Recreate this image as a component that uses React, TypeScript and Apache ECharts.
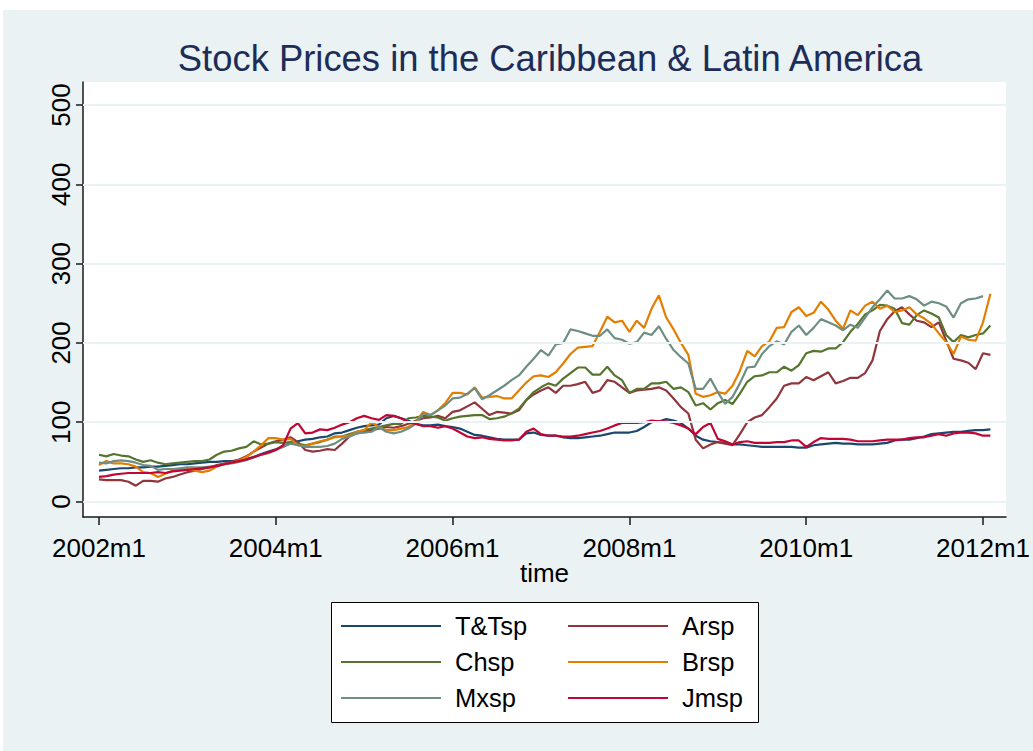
import React, { useEffect, useRef } from "react";
import * as echarts from "echarts";

// Month index 0 = 2002m1 ... 121 = 2012m2
const months: number[] = Array.from({ length: 122 }, (_, i) => i);

const tickMonths = [0, 24, 48, 72, 96, 120];
const tickLabels = ["2002m1", "2004m1", "2006m1", "2008m1", "2010m1", "2012m1"];
const yTicks = [0, 100, 200, 300, 400, 500];

const seriesNames = ["T&Tsp", "Arsp", "Chsp", "Brsp", "Mxsp", "Jmsp"];
const seriesColors = ["#1A476F", "#90353B", "#55752F", "#E37E00", "#6E8E84", "#C10534"];

const ttsp = [
  39, 40, 41, 42, 42, 43, 43, 44, 44, 45, 46, 47, 47, 48, 49, 50, 50, 51, 51, 52, 54, 56, 60, 63, 66, 69,
  74, 76, 78, 79, 81, 82, 86, 87, 90, 93, 95, 96, 97, 105, 108, 105, 102, 98, 96, 96, 97, 95, 94, 92, 88, 84,
  83, 81, 79, 78, 78, 78, 86, 87, 84, 83, 83, 81, 80, 80, 81, 82, 83, 85, 87, 87, 87, 89, 94, 100, 101,
  104, 102, 99, 92, 83, 78, 76, 75, 74, 72, 72, 71, 70, 69, 69, 69, 69, 69, 68, 68, 71, 72, 73, 74, 73, 73,
  72, 72, 72, 73, 74, 77, 78, 78, 80, 82, 85, 86, 87, 88, 88, 89, 90, 90, 91,
];

const arsp = [
  28, 27, 27, 27, 25, 20, 26, 26, 25, 29, 31, 34, 37, 39, 41, 43, 46, 48, 50, 53, 57, 63, 68, 73, 76, 78,
  81, 75, 65, 63, 64, 66, 65, 73, 82, 86, 88, 90, 92, 94, 93, 95, 98, 102, 105, 106, 108, 105, 113, 115, 120, 125,
  117, 109, 113, 112, 111, 115, 128, 135, 140, 144, 137, 146, 146, 148, 151, 137, 140, 153, 151, 144, 137, 140, 141, 142, 144,
  140, 130, 119, 111, 78, 67, 72, 75, 73, 71, 85, 100, 106, 109, 119, 130, 146, 149, 149, 157, 153, 158, 163, 149, 152, 156,
  156, 162, 178, 215, 230, 240, 245, 236, 228, 226, 220, 226, 203, 180, 178, 175, 167, 187, 185,
];

const chsp = [
  59, 57, 60, 58, 57, 53, 50, 52, 49, 47, 48, 49, 50, 51, 51, 53, 59, 63, 64, 67, 69, 76, 72, 73, 75, 74,
  75, 73, 71, 73, 75, 78, 82, 82, 85, 88, 90, 92, 94, 96, 98, 98, 105, 106, 108, 107, 106, 102, 105, 107, 108, 109,
  109, 104, 105, 107, 111, 117, 128, 138, 144, 149, 146, 155, 162, 169, 169, 160, 160, 170, 159, 153, 137, 142, 142, 149, 149,
  151, 142, 144, 138, 121, 124, 116, 124, 128, 123, 136, 151, 158, 159, 163, 163, 170, 165, 172, 187, 190, 189, 193, 193, 201, 214,
  224, 236, 241, 248, 247, 243, 225, 223, 235, 241, 237, 232, 210, 201, 210, 207, 210, 212, 222,
];

const brsp = [
  46, 51, 48, 48, 47, 44, 37, 36, 31, 35, 39, 40, 41, 39, 37, 39, 44, 47, 49, 52, 56, 63, 71, 80, 80, 78,
  79, 71, 70, 73, 76, 78, 81, 82, 83, 88, 90, 100, 94, 90, 90, 92, 94, 100, 113, 109, 115, 124, 137, 137, 135, 144,
  131, 132, 133, 130, 130, 140, 150, 158, 159, 157, 163, 174, 186, 194, 195, 196, 214, 233, 226, 228, 214, 228, 219, 243, 260,
  232, 217, 200, 185, 136, 132, 134, 138, 136, 146, 165, 190, 183, 196, 202, 219, 220, 239, 245, 234, 238, 252, 242, 228, 218, 241,
  235, 247, 252, 243, 247, 239, 241, 245, 236, 231, 224, 212, 201, 186, 208, 204, 203, 226, 262,
];

const mxsp: (number | null)[] = [
  49, 48, 51, 52, 51, 49, 46, 45, 40, 41, 41, 42, 43, 43, 43, 44, 45, 47, 48, 50, 52, 56, 59, 61, 65, 69,
  73, 71, 69, 69, 69, 70, 73, 79, 82, 86, 87, 88, 94, 88, 86, 88, 92, 98, 111, 109, 115, 121, 130, 131, 136, 143,
  129, 134, 140, 146, 153, 159, 170, 180, 191, 184, 198, 200, 217, 215, 212, 209, 209, 217, 206, 204, 199, 201, 213, 210, 221,
  205, 191, 182, 174, 142, 142, 155, 138, 123, 132, 149, 169, 170, 186, 196, 202, 198, 214, 222, 210, 219, 230, 226, 222, 216, 223,
  219, 232, 245, 255, 266, 256, 256, 259, 255, 247, 252, 250, 246, 232, 250, 255, 256, 259, null,
];

const jmsp = [
  31, 32, 34, 35, 36, 36, 36, 36, 37, 36, 38, 39, 40, 41, 42, 43, 45, 47, 49, 51, 53, 56, 59, 62, 65, 71,
  92, 99, 86, 87, 91, 90, 93, 97, 100, 105, 108, 105, 103, 109, 108, 105, 100, 98, 95, 95, 93, 95, 92, 87, 82, 80,
  81, 79, 78, 77, 77, 78, 88, 92, 85, 83, 83, 82, 82, 83, 85, 87, 89, 92, 96, 99, 99, 99, 100, 102, 101,
  101, 99, 96, 92, 85, 94, 99, 79, 76, 72, 75, 76, 74, 74, 74, 75, 75, 77, 77, 69, 75, 80, 79, 79, 79, 78,
  76, 76, 76, 77, 78, 78, 78, 80, 81, 81, 83, 85, 83, 86, 87, 87, 86, 83, 83,
];

const seriesValues = [ttsp, arsp, chsp, brsp, mxsp, jmsp];

const FONT = "'Liberation Sans', Arial, Helvetica, sans-serif";
const BG = "#EAF2F3";
const AXIS = "#1a1a1a";

export default function App() {
  const ref = useRef<HTMLDivElement>(null);

  useEffect(() => {
    if (!ref.current) return;
    const chart = echarts.init(ref.current, null, { renderer: "svg" });

    const lineSeries = seriesNames.map((name, k) => ({
      name,
      type: "line",
      data: months.map((m) => [m, seriesValues[k][m] ?? null]),
      showSymbol: false,
      symbol: "none",
      connectNulls: false,
      color: seriesColors[k],
      lineStyle: { color: seriesColors[k], width: 2.2 },
      z: 3,
      silent: true,
    }));

    const legendCommon = {
      orient: "vertical",
      icon: "rect",
      itemWidth: 100,
      itemHeight: 2,
      itemGap: 10,
      selectedMode: false,
      padding: 0,
      textStyle: { fontSize: 25.5, color: "#000", fontFamily: FONT, padding: [0, 0, 0, 9] },
    };

    chart.setOption({
      animation: false,
      backgroundColor: BG,
      title: {
        text: "Stock Prices in the Caribbean & Latin America",
        left: 545,
        top: 35,
        textAlign: "center",
        textStyle: { fontSize: 36.4, fontWeight: "normal", color: "#1E2C58", fontFamily: FONT },
      },
      grid: {
        left: 83,
        right: 26,
        top: 82,
        bottom: 234,
        show: true,
        backgroundColor: "#ffffff",
        borderWidth: 0,
        containLabel: false,
      },
      xAxis: {
        type: "value",
        min: -2.17,
        max: 123.12,
        name: "time",
        nameLocation: "middle",
        nameGap: 43,
        nameMoveOverlap: false,
        nameTextStyle: { fontSize: 26, color: "#000", fontFamily: FONT },
        axisLine: { show: true, onZero: false, lineStyle: { color: AXIS, width: 1.5 } },
        axisTick: { show: true, customValues: tickMonths, length: 8, lineStyle: { color: AXIS, width: 1.5 } },
        axisLabel: {
          show: true,
          customValues: tickMonths,
          formatter: (v: number) => {
            const idx = tickMonths.indexOf(Math.round(v));
            return idx >= 0 ? tickLabels[idx] : "";
          },
          fontSize: 26,
          color: "#000",
          margin: 18,
          fontFamily: FONT,
        },
        splitLine: { show: false },
      },
      yAxis: {
        type: "value",
        min: -19.5,
        max: 529,
        axisLine: { show: true, onZero: false, lineStyle: { color: AXIS, width: 1.5 } },
        axisTick: { show: true, customValues: yTicks, length: 7, lineStyle: { color: AXIS, width: 1.5 } },
        axisLabel: {
          show: true,
          customValues: yTicks,
          rotate: 90,
          fontSize: 26,
          color: "#000",
          margin: 9,
          fontFamily: FONT,
        },
        splitLine: { show: false },
      },
      legend: [
        { ...legendCommon, data: ["T&Tsp", "Chsp", "Mxsp"], left: 341, top: 613 },
        { ...legendCommon, data: ["Arsp", "Brsp", "Jmsp"], left: 568, top: 613 },
      ],
      graphic: [
        { type: "rect", shape: { x: 0, y: 0, width: 1033, height: 10 }, style: { fill: "#ffffff" }, z: 0 },
        { type: "rect", shape: { x: 0, y: 0, width: 3, height: 751 }, style: { fill: "#ffffff" }, z: 0 },
        {
          type: "rect",
          shape: { x: 331.5, y: 602.5, width: 427, height: 120 },
          style: { fill: "#ffffff", stroke: "#000000", lineWidth: 1 },
          z: 0,
        },
      ],
      series: [
        {
          name: "grid",
          type: "line",
          data: [],
          z: 1,
          silent: true,
          markLine: {
            silent: true,
            symbol: ["none", "none"],
            label: { show: false },
            emphasis: { disabled: true },
            lineStyle: { type: "solid", color: BG, width: 2 },
            data: yTicks.map((v) => ({ yAxis: v })),
          },
        },
        ...lineSeries,
      ],
    });

    return () => chart.dispose();
  }, []);

  return (
    <div
      ref={ref}
      style={{ position: "absolute", left: 0, top: 0, width: 1033, height: 751 }}
    />
  );
}
